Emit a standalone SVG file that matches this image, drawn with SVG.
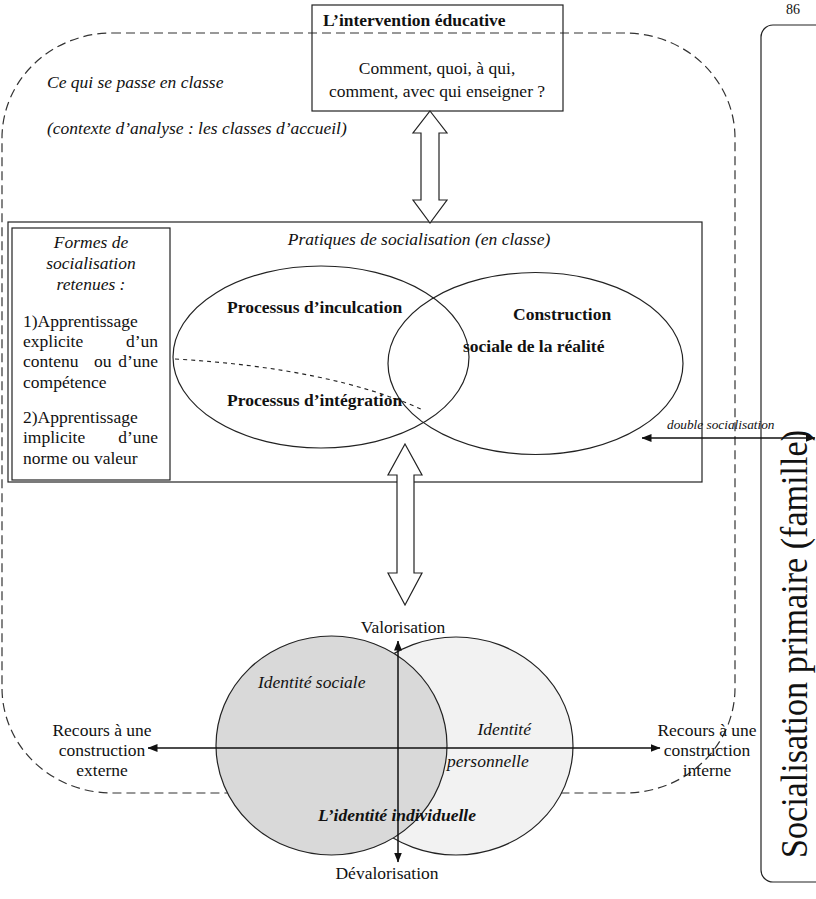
<svg xmlns="http://www.w3.org/2000/svg" width="816" height="899" viewBox="0 0 816 899">
<defs>
<style>
text{font-family:"Liberation Serif","Times New Roman",serif;font-size:17.5px;fill:#111}
.it{font-style:italic}
.b{font-weight:bold}
.c{text-anchor:middle}
.e{text-anchor:end}
.ln{fill:none;stroke:#222;stroke-width:1.2}
.dash{fill:none;stroke:#333;stroke-width:1.2;stroke-dasharray:9 5}
.ar{fill:none;stroke:#111;stroke-width:1.5}
.bar{fill:#fff;stroke:#222;stroke-width:1.2}
</style>
<marker id="ah" viewBox="0 0 10 8" refX="9.5" refY="4" markerWidth="10" markerHeight="8" markerUnits="userSpaceOnUse" orient="auto-start-reverse">
<path d="M0,0 L10,4 L0,8 z" fill="#111"/>
</marker>
</defs>

<text x="786" y="14" style="font-size:14px">86</text>

<g id="primary">
<rect x="761" y="25" width="90" height="857" rx="12" ry="12" class="ln"/>
<text transform="translate(807,644) rotate(-90)" class="c" style="font-size:37px" textLength="428" lengthAdjust="spacingAndGlyphs">Socialisation primaire (famille)</text>
</g>

<g id="classroom">
<rect x="2" y="33" width="733" height="760" rx="110" ry="105" class="dash"/>
<text x="47" y="88" class="it">Ce qui se passe en classe</text>
<text x="47" y="134" class="it">(contexte d’analyse : les classes d’accueil)</text>
</g>

<g id="intervention">
<rect x="312" y="5" width="251" height="106" class="ln"/>
<text x="323" y="26" class="b">L’intervention éducative</text>
<text x="437" y="74" class="c">Comment, quoi, à qui,</text>
<text x="437" y="97" class="c">comment, avec qui enseigner ?</text>
</g>

<g id="pratiques">
<rect x="8" y="222" width="694" height="260" class="ln" fill="none"/>
<text x="419" y="245" class="it c">Pratiques de socialisation (en classe)</text>
<ellipse cx="321" cy="357" rx="148" ry="91" class="ln"/>
<ellipse cx="535.5" cy="363.5" rx="147.5" ry="91" class="ln"/>
<path d="M175,359 Q330,368 423,410" fill="none" stroke="#222" stroke-width="1.1" stroke-dasharray="4 4"/>
<text x="227" y="313" class="b">Processus d’inculcation</text>
<text x="227" y="406" class="b">Processus d’intégration</text>
<text x="513" y="320" class="b">Construction</text>
<text x="463" y="352" class="b">sociale de la réalité</text>
</g>

<g id="formes">
<rect x="12" y="228" width="158" height="252" class="ln"/>
<text x="91" y="248" class="it c">Formes de</text>
<text x="91" y="269" class="it c">socialisation</text>
<text x="91" y="290" class="it c">retenues :</text>
<text x="23" y="327">1)Apprentissage</text>
<text x="23" y="347">explicite</text>
<text x="158" y="347" class="e">d’un</text>
<text x="23" y="367">contenu</text>
<text x="94" y="367">ou</text>
<text x="158" y="367" class="e">d’une</text>
<text x="23" y="388">compétence</text>
<text x="23" y="423">2)Apprentissage</text>
<text x="23" y="443">implicite</text>
<text x="158" y="443" class="e">d’une</text>
<text x="23" y="464">norme ou valeur</text>
</g>

<g id="identite">
<ellipse cx="456" cy="746" rx="117" ry="109" fill="#f2f2f2" stroke="#222" stroke-width="1.2"/>
<ellipse cx="331.5" cy="745.5" rx="115.5" ry="109.5" fill="#d9d9d9" stroke="#222" stroke-width="1.2"/>
<text x="258" y="688" class="it">Identité sociale</text>
<text x="531" y="735" class="it e">Identité</text>
<text x="447" y="767" class="it">personnelle</text>
<text x="318" y="821" class="it b">L’identité individuelle</text>
</g>

<g id="connectors">
<path d="M430,111 L447,133 L439,133 L439,200 L447,200 L430,223 L413,200 L421,200 L421,133 L413,133 Z" class="bar"/>
<path d="M405,444 L422,475 L414,475 L414,573 L422,573 L405,605 L388,573 L397,573 L397,475 L388,475 Z" class="bar"/>
<line x1="642" y1="438" x2="815" y2="438" class="ar" marker-start="url(#ah)" marker-end="url(#ah)"/>
<line x1="148" y1="748" x2="660" y2="748" class="ar" marker-start="url(#ah)" marker-end="url(#ah)"/>
<line x1="398" y1="641" x2="398" y2="862" class="ar" marker-start="url(#ah)" marker-end="url(#ah)"/>
</g>

<g id="labels">
<text x="667" y="429" class="it" style="font-size:13.3px">double socialisation</text>
<text x="403" y="633" class="c">Valorisation</text>
<text x="387" y="879" class="c">Dévalorisation</text>
<text x="102" y="736" class="c">Recours à une</text>
<text x="102" y="756" class="c">construction</text>
<text x="102" y="776" class="c">externe</text>
<text x="707" y="736" class="c">Recours à une</text>
<text x="707" y="756" class="c">construction</text>
<text x="707" y="776" class="c">interne</text>
</g>
</svg>
